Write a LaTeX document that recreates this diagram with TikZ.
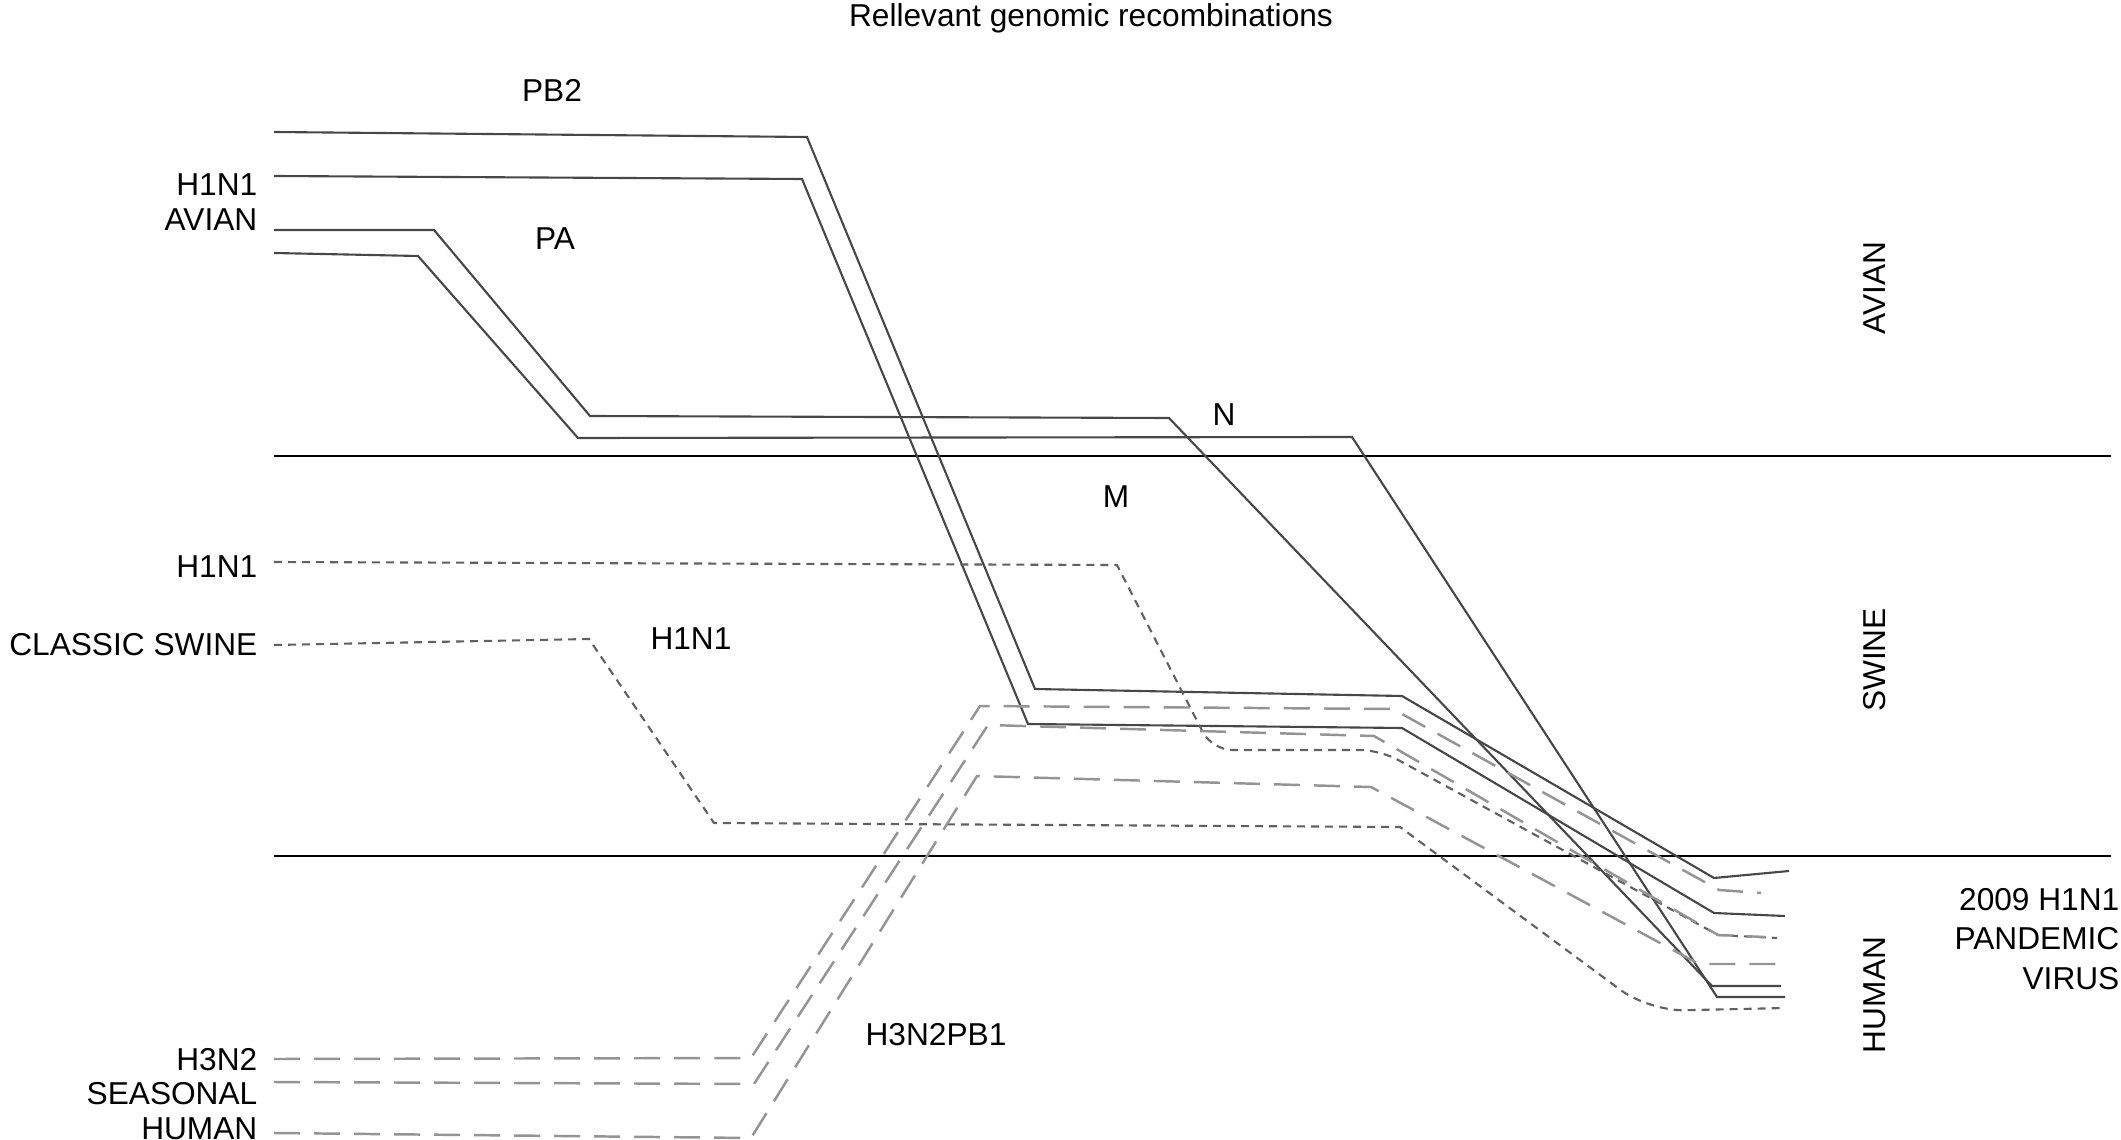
\documentclass[tikz,border=0pt]{standalone}
\usepackage{fontspec}
\setmainfont{Liberation Sans}
\tikzset{
  lineage/.style={draw=black!72, line width=0.6pt},
  swinedots/.style={draw=black!62, line width=0.6pt, dash pattern=on 0.08cm off 0.06cm},
  humandash/.style={draw=black!42, line width=0.7pt, dash pattern=on 0.26cm off 0.14cm},
  hostline/.style={draw=black, line width=0.75pt},
  lbl/.style={font=\fontsize{9}{11}\selectfont, inner sep=0pt, text height=0.72em, text depth=0pt},
  hostlbl/.style={lbl, rotate=90}
}

\begin{document}
\begin{tikzpicture}[x=0.01cm, y=-0.01cm]
    \useasboundingbox (0,0) rectangle (2121,1140);

    % Title
    \node[lbl] (title) at (1091,14) {Rellevant genomic recombinations};

    % Host boundaries
    \draw[hostline] (274,456) -- (2111,456);
    \draw[hostline] (274,856) -- (2111,856);

    % Host names
    \node[hostlbl] (avian) at (1873,288) {AVIAN};
    \node[hostlbl] (swine) at (1873,660) {SWINE};
    \node[hostlbl] (human) at (1873,995) {HUMAN};

    % Source strains
    \node[lbl, anchor=east] (avh1n1) at (258,183) {H1N1};
    \node[lbl, anchor=east] (avname) at (258,218) {AVIAN};
    \node[lbl, anchor=east] (swh1n1) at (258,565) {H1N1};
    \node[lbl, anchor=east] (swname) at (258,643) {CLASSIC SWINE};
    \node[lbl, anchor=east] (huh3n2) at (258,1058) {H3N2};
    \node[lbl, anchor=east] (huseas) at (258,1092) {SEASONAL};
    \node[lbl, anchor=east] (huname) at (258,1127) {HUMAN};

    % Pandemic virus
    \node[lbl, anchor=east] (pand1) at (2120,898) {2009 H1N1};
    \node[lbl, anchor=east] (pand2) at (2120,937) {PANDEMIC};
    \node[lbl, anchor=east] (pand3) at (2120,977) {VIRUS};

    % Segment names
    \node[lbl] (pb2) at (552,89) {PB2};
    \node[lbl] (pa) at (555,237) {PA};
    \node[lbl] (seg-n) at (1224,413) {N};
    \node[lbl] (seg-m) at (1116,495) {M};
    \node[lbl] (swmid) at (691,637) {H1N1};
    \node[lbl] (pb1) at (936,1033) {H3N2PB1};

    % Avian segments
    \draw[lineage] (274,132) -- (807,137) -- (1035,689) -- (1402,696) -- (1714,878) -- (1789,871);
    \draw[lineage] (274,176) -- (802,179) -- (1028,724) -- (1402,728) -- (1714,913) -- (1785,916);
    \draw[lineage] (274,230) -- (434,230) -- (590,416) -- (1169,418) -- (1712,986) -- (1781,986);
    \draw[lineage] (274,253) -- (418,256) -- (578,438) -- (1352,437) -- (1717,997) -- (1785,997);

    % Classic swine segments
    \draw[swinedots] (274,562) -- (1117,565) [rounded corners=0.2cm] -- (1212,750) -- (1380,750) [sharp corners] -- (1718,935) -- (1777,938);
    \draw[swinedots] (274,645) -- (589,639) -- (714,823) -- (1400,827) [rounded corners=0.35cm] -- (1649,1011) -- (1785,1008);

    % Seasonal human segments
    \draw[humandash] (274,1059) -- (751,1058) -- (980,706) -- (1393,709) -- (1719,890) -- (1761,893);
    \draw[humandash] (274,1082) -- (754,1084) -- (988,725) -- (1374,736) -- (1718,935) -- (1765,937);
    \draw[humandash] (274,1133) -- (751,1138) -- (977,776) -- (1371,787) -- (1699,964) -- (1781,964);

\end{tikzpicture}
\end{document}
